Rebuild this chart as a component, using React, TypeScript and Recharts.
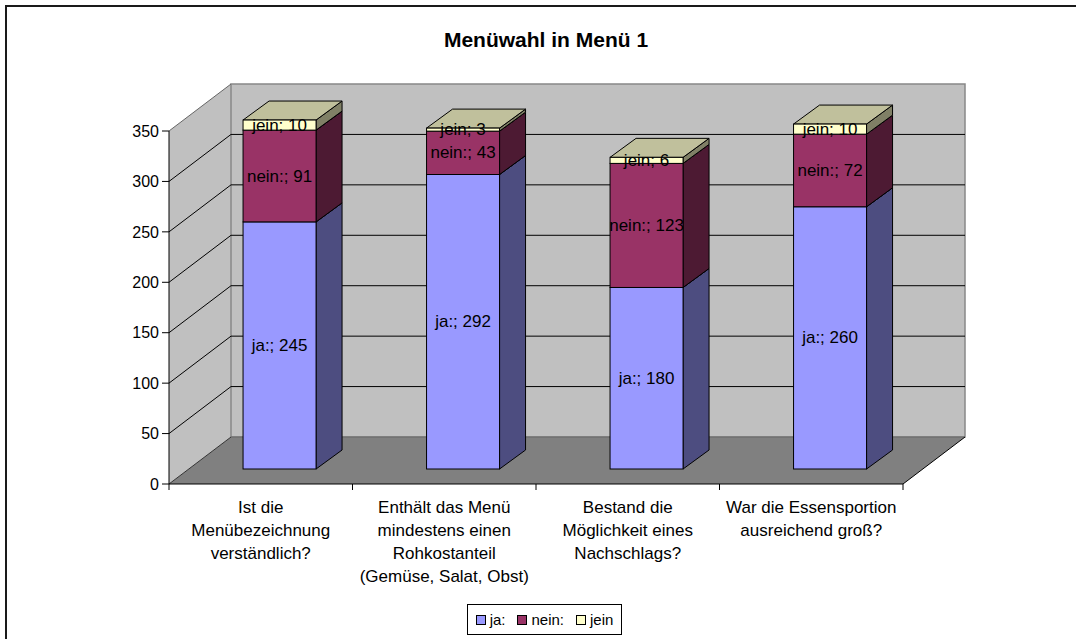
import React from 'react';
import { BarChart, Bar, XAxis, YAxis, ReferenceArea, LabelList } from 'recharts';

const categories = [
  'Ist die\nMenübezeichnung\nverständlich?',
  'Enthält das Menü\nmindestens einen\nRohkostanteil\n(Gemüse, Salat, Obst)',
  'Bestand die\nMöglichkeit eines\nNachschlags?',
  'War die Essensportion\nausreichend groß?',
];
const jaValues = [245, 292, 180, 260];
const neinValues = [91, 43, 123, 72];
const jeinValues = [10, 3, 6, 10];
const seriesNames = ['ja:', 'nein:', 'jein'];
const yTicks = [0, 50, 100, 150, 200, 250, 300, 350];

const data = categories.map((name, i) => ({
  name,
  ja: jaValues[i],
  nein: neinValues[i],
  jein: jeinValues[i],
}));

const series = [
  { key: 'ja', name: seriesNames[0], front: '#9999FF', side: '#4D4D80', top: '#7373BF' },
  { key: 'nein', name: seriesNames[1], front: '#993366', side: '#4D1A33', top: '#73264D' },
  { key: 'jein', name: seriesNames[2], front: '#FFFFCC', side: '#808066', top: '#C0C09C' },
];

const FONT = '"Liberation Sans", Arial, sans-serif';
const Y_MAX = yTicks[yTicks.length - 1];

// 3d projection offsets (px)
const WALL_DX = 62;
const WALL_DY = 47;
const BAR_OFF_X = 19;
const BAR_OFF_Y = 15;
const BAR_DX = 26;
const BAR_DY = 19;

function Walls(props: any) {
  const { x, y, width, height } = props;
  const bx = x + WALL_DX;
  const by = y - WALL_DY;
  const yOf = (t: number) => y + height * (1 - t / Y_MAX);
  const n = categories.length;
  return (
    <g>
      <polygon
        points={`${x},${y} ${bx},${by} ${bx},${by + height} ${x},${y + height}`}
        fill="#C0C0C0"
      />
      <rect x={bx} y={by} width={width} height={height} fill="#C0C0C0" stroke="#888" strokeWidth={1.5} />
      <polygon
        points={`${x},${y + height} ${bx},${by + height} ${bx + width},${by + height} ${x + width},${y + height}`}
        fill="#808080"
      />
      <line x1={bx} y1={by + height} x2={bx + width} y2={by + height} stroke="#666" />
      {yTicks
        .filter((t) => t > 0 && t < Y_MAX)
        .map((t) => (
          <g key={t}>
            <line x1={bx} y1={yOf(t) - WALL_DY} x2={bx + width} y2={yOf(t) - WALL_DY} stroke="#000" />
            <line x1={x} y1={yOf(t)} x2={bx} y2={yOf(t) - WALL_DY} stroke="#000" />
          </g>
        ))}
      <line x1={x} y1={y} x2={bx} y2={by} stroke="#666" />
      <line x1={x} y1={y + height} x2={bx} y2={by + height} stroke="#333" />
      <line x1={x + width} y1={y + height} x2={bx + width} y2={by + height} stroke="#000" />
      {Array.from({ length: n + 1 }).map((_, i) => (
        <line
          key={i}
          x1={x + (i * width) / n}
          y1={y + height}
          x2={x + (i * width) / n}
          y2={y + height + 6}
          stroke="#000"
        />
      ))}
    </g>
  );
}

function Box3D(props: any) {
  const { x, y, width, height, front, side, top } = props;
  if (!height || height <= 0) return null;
  const fx = x + BAR_OFF_X;
  const fy = y - BAR_OFF_Y;
  return (
    <g stroke="#000" strokeWidth={1}>
      <polygon
        points={`${fx + width},${fy} ${fx + width + BAR_DX},${fy - BAR_DY} ${fx + width + BAR_DX},${fy - BAR_DY + height} ${fx + width},${fy + height}`}
        fill={side}
      />
      <polygon
        points={`${fx},${fy} ${fx + BAR_DX},${fy - BAR_DY} ${fx + width + BAR_DX},${fy - BAR_DY} ${fx + width},${fy}`}
        fill={top}
      />
      <rect x={fx} y={fy} width={width} height={height} fill={front} />
    </g>
  );
}

function makeLabel(name: string) {
  return (props: any) => {
    const vb = props.viewBox ?? props;
    const x = vb.x ?? props.x;
    const y = vb.y ?? props.y;
    const w = vb.width ?? props.width;
    const h = vb.height ?? props.height;
    return (
      <text
        x={x + BAR_OFF_X + w / 2}
        y={y - BAR_OFF_Y + h / 2}
        textAnchor="middle"
        dominantBaseline="central"
        fontSize={17}
        fontFamily={FONT}
        fill="#000"
      >
        {`${name}; ${props.value}`}
      </text>
    );
  };
}

function CategoryTick(props: any) {
  const { x, y, payload } = props;
  const lines = String(payload.value).split('\n');
  return (
    <text x={x} y={y} textAnchor="middle" fontSize={17} fontFamily={FONT} fill="#000">
      {lines.map((l, i) => (
        <tspan key={i} x={x} dy={i === 0 ? 29 : 23}>
          {l}
        </tspan>
      ))}
    </text>
  );
}

export default function App() {
  return (
    <div
      style={{
        position: 'absolute',
        left: 0,
        top: 0,
        width: 1076,
        height: 639,
        overflow: 'hidden',
        background: '#fff',
        fontFamily: FONT,
      }}
    >
      <div
        style={{
          position: 'absolute',
          left: 5,
          top: 5,
          width: 1200,
          height: 800,
          border: '2px solid #1a1a1a',
        }}
      />
      <div style={{ position: 'absolute', left: 0, top: 0 }}>
        <BarChart
          width={1076}
          height={639}
          data={data}
          margin={{ top: 131, right: 173, bottom: 55, left: 109 }}
          barCategoryGap="30%"
        >
          <ReferenceArea y1={0} y2={Y_MAX} ifOverflow="visible" shape={(p: any) => <Walls {...p} />} />
          <XAxis
            dataKey="name"
            height={100}
            interval={0}
            tickLine={false}
            tickSize={0}
            tickMargin={0}
            axisLine={{ stroke: '#000' }}
            tick={<CategoryTick />}
          />
          <YAxis
            width={60}
            domain={[0, Y_MAX]}
            ticks={yTicks}
            interval={0}
            tickSize={7}
            tickMargin={3}
            axisLine={{ stroke: '#000' }}
            tickLine={{ stroke: '#000' }}
            tick={{ fill: '#000', fontSize: 16, fontFamily: FONT }}
          />
          {series.map((s) => (
            <Bar
              key={s.key}
              dataKey={s.key}
              name={s.name}
              stackId="a"
              fill={s.front}
              isAnimationActive={false}
              shape={(p: any) => <Box3D {...p} front={s.front} side={s.side} top={s.top} />}
            >
              <LabelList dataKey={s.key} content={makeLabel(s.name)} />
            </Bar>
          ))}
        </BarChart>
      </div>
      <div
        style={{
          position: 'absolute',
          left: 0,
          width: 1092,
          top: 28,
          lineHeight: '24px',
          textAlign: 'center',
          fontWeight: 'bold',
          fontSize: 21,
        }}
      >
        Menüwahl in Menü 1
      </div>
      <div
        style={{
          position: 'absolute',
          left: 467,
          top: 604,
          width: 155,
          height: 31,
          boxSizing: 'border-box',
          border: '1px solid #000',
          display: 'flex',
          alignItems: 'center',
          justifyContent: 'center',
          gap: 12,
          fontSize: 15,
        }}
      >
        {series.map((s) => (
          <span key={s.key} style={{ display: 'flex', alignItems: 'center' }}>
            <span
              style={{
                display: 'inline-block',
                width: 8,
                height: 8,
                border: '1px solid #000',
                background: s.front,
                marginRight: 4,
              }}
            />
            {s.name}
          </span>
        ))}
      </div>
    </div>
  );
}
